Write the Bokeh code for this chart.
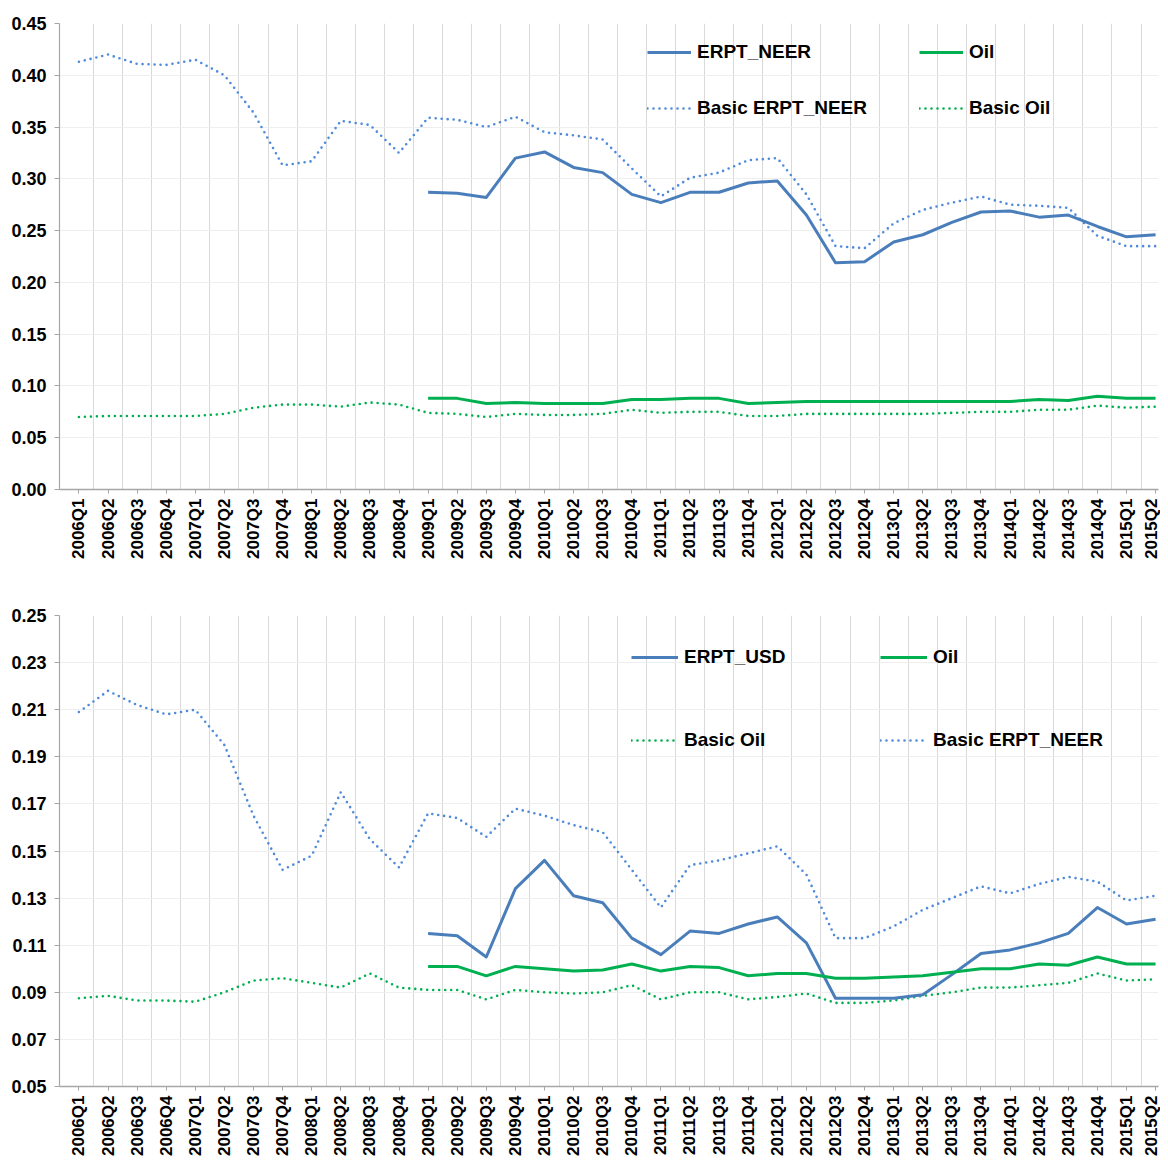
import math
from bokeh.plotting import figure
from bokeh.layouts import column
from bokeh.models import Range1d, FixedTicker, PrintfTickFormatter, Legend, LegendItem
from bokeh.embed import file_html
from bokeh.resources import INLINE

quarters = ["2006Q1", "2006Q2", "2006Q3", "2006Q4", "2007Q1", "2007Q2", "2007Q3", "2007Q4",
            "2008Q1", "2008Q2", "2008Q3", "2008Q4", "2009Q1", "2009Q2", "2009Q3", "2009Q4",
            "2010Q1", "2010Q2", "2010Q3", "2010Q4", "2011Q1", "2011Q2", "2011Q3", "2011Q4",
            "2012Q1", "2012Q2", "2012Q3", "2012Q4", "2013Q1", "2013Q2", "2013Q3", "2013Q4",
            "2014Q1", "2014Q2", "2014Q3", "2014Q4", "2015Q1", "2015Q2"]
short_start = "2009Q1"

# ---- top panel ----
top_basic_erpt_neer = [0.413, 0.420, 0.411, 0.410, 0.415, 0.400, 0.364, 0.313,
                       0.317, 0.356, 0.352, 0.325, 0.359, 0.357, 0.350, 0.360,
                       0.345, 0.342, 0.338, 0.310, 0.283, 0.301, 0.306, 0.318,
                       0.320, 0.285, 0.235, 0.233, 0.257, 0.270, 0.277, 0.283,
                       0.275, 0.274, 0.272, 0.245, 0.235, 0.235]
top_erpt_neer = [0.287, 0.286, 0.282, 0.320, 0.326, 0.311, 0.306, 0.285,
                 0.277, 0.287, 0.287, 0.296, 0.298, 0.265, 0.219, 0.220,
                 0.239, 0.246, 0.258, 0.268, 0.269, 0.263, 0.265, 0.254,
                 0.244, 0.246]
top_oil = [0.088, 0.088, 0.083, 0.084, 0.083, 0.083, 0.083, 0.087,
           0.087, 0.088, 0.088, 0.083, 0.084, 0.085, 0.085, 0.085,
           0.085, 0.085, 0.085, 0.085, 0.085, 0.087, 0.086, 0.090,
           0.088, 0.088]
top_basic_oil = [0.070, 0.071, 0.071, 0.071, 0.071, 0.073, 0.079, 0.082,
                 0.082, 0.080, 0.084, 0.082, 0.074, 0.073, 0.070, 0.073,
                 0.072, 0.072, 0.073, 0.077, 0.074, 0.075, 0.075, 0.071,
                 0.071, 0.073, 0.073, 0.073, 0.073, 0.073, 0.074, 0.075,
                 0.075, 0.077, 0.077, 0.081, 0.079, 0.080]
top_yticks = [0.00, 0.05, 0.10, 0.15, 0.20, 0.25, 0.30, 0.35, 0.40, 0.45]

# ---- bottom panel ----
bot_basic_erpt_neer = [0.209, 0.218, 0.212, 0.208, 0.210, 0.195, 0.165, 0.142,
                       0.148, 0.175, 0.155, 0.143, 0.166, 0.164, 0.156, 0.168,
                       0.165, 0.161, 0.158, 0.142, 0.126, 0.144, 0.146, 0.149,
                       0.152, 0.140, 0.113, 0.113, 0.118, 0.125, 0.130, 0.135,
                       0.132, 0.136, 0.139, 0.137, 0.129, 0.131]
bot_erpt_usd = [0.115, 0.114, 0.105, 0.134, 0.146, 0.131, 0.128, 0.113,
                0.106, 0.116, 0.115, 0.119, 0.122, 0.111, 0.0875, 0.0875,
                0.0875, 0.089, 0.0975, 0.1065, 0.108, 0.111, 0.115, 0.126,
                0.119, 0.121]
bot_oil = [0.101, 0.101, 0.097, 0.101, 0.100, 0.099, 0.0995, 0.102,
           0.099, 0.101, 0.1005, 0.097, 0.098, 0.098, 0.096, 0.096,
           0.0965, 0.097, 0.0985, 0.100, 0.100, 0.102, 0.1015, 0.105,
           0.102, 0.102]
bot_basic_oil = [0.0875, 0.0885, 0.0865, 0.0865, 0.086, 0.090, 0.095, 0.096,
                 0.094, 0.092, 0.098, 0.092, 0.091, 0.091, 0.087, 0.091,
                 0.090, 0.0895, 0.090, 0.093, 0.087, 0.090, 0.090, 0.087,
                 0.088, 0.0895, 0.0855, 0.0855, 0.0865, 0.0885, 0.090, 0.092,
                 0.092, 0.093, 0.094, 0.098, 0.095, 0.0955]
bot_yticks = [0.05, 0.07, 0.09, 0.11, 0.13, 0.15, 0.17, 0.19, 0.21, 0.23, 0.25]

BLUE = "#4A7EBB"
BLUE_DOT = "#4F8ADB"
GREEN = "#00B050"
FONT = "Liberation Sans"

x_all = list(range(len(quarters)))
k0 = quarters.index(short_start)
x_short = x_all[k0:]


def make_fig(height, ymin, ymax, yticks, top_border, bottom_border):
    p = figure(width=1160, height=height, output_backend="svg", toolbar_location=None,
               x_range=Range1d(-0.667, 37.1), y_range=Range1d(ymin, ymax),
               min_border_left=59, min_border_right=2, min_border_top=top_border,
               min_border_bottom=bottom_border)
    p.outline_line_color = None
    p.background_fill_color = "white"
    p.border_fill_color = "white"
    # x axis
    p.xaxis.ticker = FixedTicker(ticks=x_all)
    p.xaxis.major_label_overrides = {i: q for i, q in enumerate(quarters)}
    p.xaxis.major_label_orientation = math.pi / 2
    p.xaxis.axis_line_color = "#A6A6A6"
    p.xaxis.axis_line_width = 1.5
    p.xaxis.major_tick_line_color = "#A6A6A6"
    p.xaxis.major_tick_out = 4
    p.xaxis.major_tick_in = 0
    p.xaxis.minor_tick_line_color = None
    p.xaxis.major_label_standoff = 5
    p.xaxis.major_label_text_font_size = "17px"
    # y axis
    p.yaxis.ticker = FixedTicker(ticks=yticks)
    p.yaxis.formatter = PrintfTickFormatter(format="%.2f")
    p.yaxis.axis_line_color = "#A6A6A6"
    p.yaxis.axis_line_width = 1.2
    p.yaxis.major_tick_line_color = "#A6A6A6"
    p.yaxis.major_tick_out = 5
    p.yaxis.major_tick_in = 0
    p.yaxis.minor_tick_line_color = None
    p.yaxis.major_label_standoff = 8
    p.yaxis.major_label_text_font_size = "18px"
    for ax in (p.xaxis, p.yaxis):
        ax.major_label_text_font = FONT
        ax.major_label_text_font_style = "bold"
        ax.major_label_text_color = "#000000"
    # grids
    p.xgrid.ticker = FixedTicker(ticks=[i + 0.5 for i in x_all[:-1]])
    p.xgrid.grid_line_color = "#D9D9D9"
    p.xgrid.grid_line_width = 1
    p.ygrid.ticker = FixedTicker(ticks=yticks)
    p.ygrid.grid_line_color = "#EEEEEE"
    p.ygrid.grid_line_width = 1
    return p


def solid(p, xs, ys, color):
    return p.line(xs, ys, line_color=color, line_width=3, line_join="round")


def dotted(p, xs, ys, color):
    return p.line(xs, ys, line_color=color, line_width=2.6, line_dash="0 6",
                  line_cap="round", line_join="round")


def add_legend(p, label, renderer, x, y, glyph_w):
    leg = Legend(items=[LegendItem(label=label, renderers=[renderer])],
                 location=(x, y), padding=0, margin=0, spacing=0,
                 border_line_color=None, background_fill_alpha=0,
                 glyph_width=glyph_w, glyph_height=20, label_height=20,
                 label_standoff=6, label_text_font=FONT,
                 label_text_font_style="bold", label_text_font_size="19px",
                 label_text_color="#000000")
    p.add_layout(leg)


# top figure: frame from y=23 to y=489, figure ends at 590
p1 = make_fig(590, 0.0, 0.45, top_yticks, 23, 101)
r_bn = dotted(p1, x_all, top_basic_erpt_neer, BLUE_DOT)
r_bo = dotted(p1, x_all, top_basic_oil, GREEN)
r_n = solid(p1, x_short, top_erpt_neer, BLUE)
r_o = solid(p1, x_short, top_oil, GREEN)
add_legend(p1, "ERPT_NEER", r_n, 588, 426, 44)
add_legend(p1, "Oil", r_o, 860, 426, 44)
add_legend(p1, "Basic ERPT_NEER", r_bn, 588, 370, 44)
add_legend(p1, "Basic Oil", r_bo, 860, 370, 44)

# bottom figure: frame from y=615 to about y=1088
p2 = make_fig(568, 0.05, 0.25, bot_yticks, 25, 70)
q_bn = dotted(p2, x_all, bot_basic_erpt_neer, BLUE_DOT)
q_bo = dotted(p2, x_all, bot_basic_oil, GREEN)
q_u = solid(p2, x_short, bot_erpt_usd, BLUE)
q_o = solid(p2, x_short, bot_oil, GREEN)
add_legend(p2, "ERPT_USD", q_u, 572, 418, 47)
add_legend(p2, "Oil", q_o, 821, 418, 47)
add_legend(p2, "Basic Oil", q_bo, 572, 335, 47)
add_legend(p2, "Basic ERPT_NEER", q_bn, 821, 335, 47)

layout = column(p1, p2, spacing=0)
open("out.html", "w").write(file_html(layout, INLINE))
